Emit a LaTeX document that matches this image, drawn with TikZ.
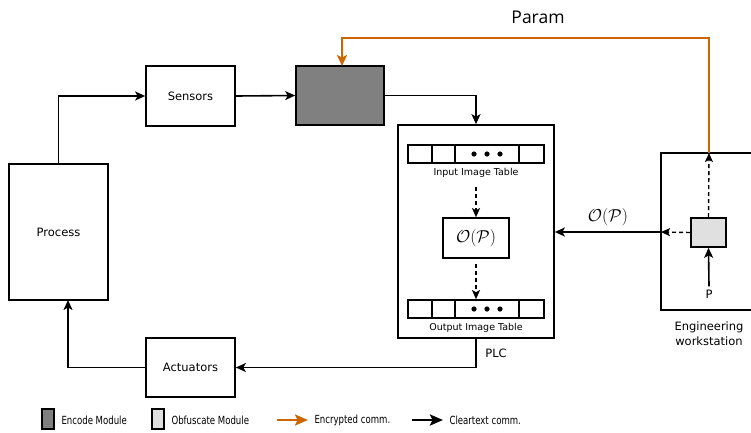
\documentclass[tikz,border=0pt]{standalone}
\usepackage{fontspec}
\setmainfont{DejaVu Sans}
\newfontfamily\paramfont{Open Sans}
\newfontfamily\condfont[FakeStretch=0.85]{DejaVu Sans Condensed}
\usetikzlibrary{arrows.meta}
\definecolor{enc}{RGB}{204,102,0}
\definecolor{darkmod}{RGB}{128,128,128}
\definecolor{lightmod}{RGB}{224,224,224}
\begin{document}
\begin{tikzpicture}[x=1pt,y=-1pt,
  box/.style={draw,line width=1.7pt,inner sep=0pt},
  lbl/.style={font=\fontsize{11.5}{15}\selectfont},
  small/.style={font=\fontsize{9.5}{11}\selectfont},
  leg/.style={font=\condfont\fontsize{11.2}{13}\selectfont},
  mathl/.style={font=\fontsize{17.5}{20}\selectfont},
  arr/.style={line width=1.6pt,-{Stealth[length=10pt,width=9pt,inset=2.5pt]}},
  darr/.style={line width=1.4pt,dash pattern=on 4pt off 3pt,-{Stealth[length=9pt,width=8pt,inset=2pt]}},
  oarr/.style={line width=2.2pt,draw=enc,-{Stealth[length=11pt,width=10pt,inset=2.5pt]}},
]
\useasboundingbox (0,0) rectangle (751,432);
% boxes
\node[box,minimum width=99pt,minimum height=136pt,lbl] (proc) at (58.5,232) {Process};
\node[box,minimum width=89pt,minimum height=60pt,lbl] (sens) at (190.5,96) {Sensors};
\node[box,minimum width=88pt,minimum height=59pt,fill=darkmod] (encm) at (340,95.5) {};
\node[box,minimum width=156pt,minimum height=213pt] (plc) at (476,231.5) {};
\node[lbl,anchor=north] (plcl) at (496,345) {PLC};
\node[box,minimum width=89pt,minimum height=59pt,lbl] (act) at (190.5,367.5) {Actuators};
% input table
\node[box,minimum width=136pt,minimum height=18pt] (itab) at (476,154) {};
\draw[line width=1.7pt] (432,145) -- (432,163) (455,145) -- (455,163) (519,145) -- (519,163);
\foreach \xx in {474,487,500} \fill (\xx,154) circle (2.6pt);
\node[small] (itl) at (476,173) {Input Image Table};
% O(P)
\node[box,minimum width=66pt,minimum height=40pt,mathl] (op) at (476,238) {$\mathcal{O}(\mathcal{P})$};
% output table
\node[box,minimum width=136pt,minimum height=18pt] (otab) at (476,309) {};
\draw[line width=1.7pt] (432,300) -- (432,318) (455,300) -- (455,318) (519,300) -- (519,318);
\foreach \xx in {474,487,500} \fill (\xx,309) circle (2.6pt);
\node[small] (otl) at (476,328) {Output Image Table};
% workstation
\node[box,minimum width=100pt,minimum height=157pt] (ws) at (711,231.5) {};
\node[lbl,align=center] (wsl) at (709,334) {Engineering\\workstation};
\node[box,minimum width=35pt,minimum height=29pt,fill=lightmod] (obf) at (708.5,232.5) {};
\node[lbl] (p) at (709,294) {P};
\coordinate (wsin) at (661,232);
\coordinate (wstop) at (709,153);
% arrows
\draw[arr] (proc.north) |- (sens.west);
\draw[arr] (sens.east) -- (encm.west);
\draw[arr] (encm.east) -| (plc.north);
\draw[arr] (plc.south) |- (act.east);
\draw[arr] (act.west) -| (68,300);
\draw[darr] (476,187) -- (op.north);
\draw[darr] (op.south)++(0,5) -- (otab.north);
\draw[arr] (p.north) -- (obf.south);
\draw[darr] (obf.north) -- (wstop);
\draw[darr] (obf.west) -- (wsin);
\draw[arr] (wsin) -- node[above=2pt,mathl] {$\mathcal{O}(\mathcal{P})$} (plc.east|-wsin);
\draw[oarr] (wstop) -- (709,38) -- (342,38) -- (342,66);
\node[font=\paramfont\fontsize{17.5}{20}\selectfont] (param) at (538,17) {Param};
% legend
\node[box,minimum width=12pt,minimum height=20pt,fill=darkmod] (l1) at (48,419) {};
\node[leg,anchor=west] (l1t) at (58,420) {Encode Module};
\node[box,minimum width=12pt,minimum height=20pt,fill=lightmod] (l2) at (158,419) {};
\node[leg,anchor=west] (l2t) at (168,420) {Obfuscate Module};
\coordinate (l3a) at (277,420); \coordinate (l3b) at (308,420);
\draw[oarr,-{Stealth[length=13pt,width=11pt,inset=2.5pt]}] (l3a) -- (l3b);
\node[leg,anchor=west] (l3t) at (311,420) {Encrypted comm.};
\coordinate (l4a) at (412,420); \coordinate (l4b) at (443,420);
\draw[line width=2.4pt,-{Stealth[length=13pt,width=11pt,inset=2.5pt]}] (l4a) -- (l4b);
\node[leg,anchor=west] (l4t) at (446,420) {Cleartext comm.};
\end{tikzpicture}
\end{document}
